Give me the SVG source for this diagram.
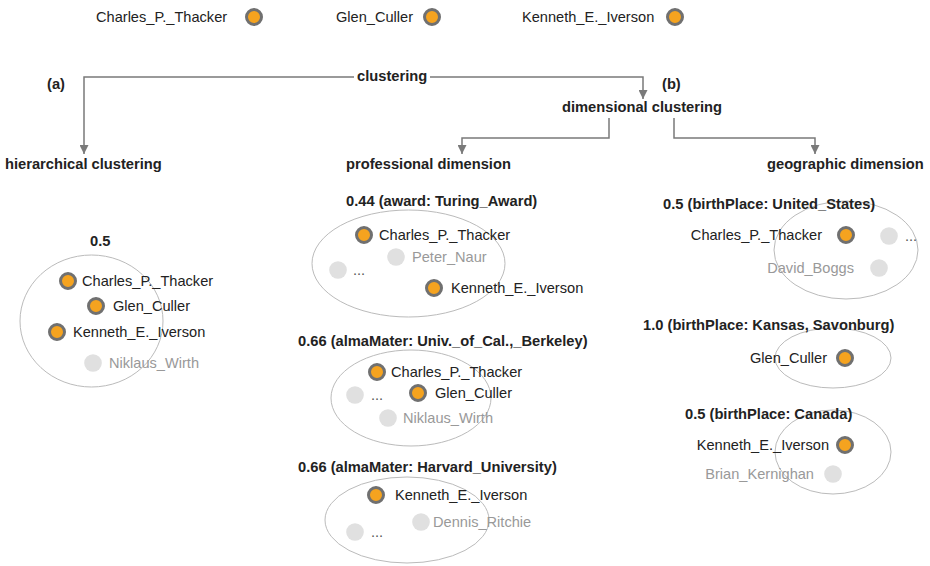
<svg xmlns="http://www.w3.org/2000/svg" width="930" height="566" viewBox="0 0 930 566">
<style>
text{font-family:"Liberation Sans",Arial,sans-serif;fill:#222}
.h{font-weight:bold;font-size:14.7px}
.n{font-size:14.6px}
.g{fill:#999}
.d{fill:#555}
.on{fill:#F5A31F;stroke:#707070;stroke-width:3}
.off{fill:#e0e0e0}
.cl{fill:none;stroke:#bbb;stroke-width:1}
.cn{fill:none;stroke:#7a7a7a;stroke-width:1.5}
</style>
<defs>
<marker id="arr" viewBox="0 0 10 10" refX="10" refY="5" markerWidth="10" markerHeight="9" markerUnits="userSpaceOnUse" orient="auto">
<path d="M0 0 L10 5 L0 10 z" fill="#7a7a7a"/>
</marker>
</defs>

<g id="legend">
<text class="n" x="96" y="22">Charles_P._Thacker</text>
<circle class="on" cx="254" cy="17" r="7.5"/>
<text class="n" x="336" y="22">Glen_Culler</text>
<circle class="on" cx="432" cy="17" r="7.5"/>
<text class="n" x="522" y="22">Kenneth_E._Iverson</text>
<circle class="on" cx="675" cy="17" r="7.5"/>
</g>

<g id="connectors">
<path class="cn" d="M354 77 H84 V154" marker-end="url(#arr)"/>
<path class="cn" d="M430 77 H643 V99" marker-end="url(#arr)"/>
<path class="cn" d="M609 118 V138 H462 V154" marker-end="url(#arr)"/>
<path class="cn" d="M674 118 V138 H815 V154" marker-end="url(#arr)"/>
</g>

<g id="headers">
<text class="h" x="47" y="89">(a)</text>
<text class="h" x="357" y="81">clustering</text>
<text class="h" x="662" y="89">(b)</text>
<text class="h" x="562" y="112">dimensional clustering</text>
<text class="h" x="5" y="169">hierarchical clustering</text>
<text class="h" x="346" y="169">professional dimension</text>
<text class="h" x="767" y="169">geographic dimension</text>
</g>

<g id="cluster-hier">
<ellipse class="cl" cx="91.5" cy="321" rx="71.5" ry="66"/>
<text class="h" x="90" y="246">0.5</text>
<circle class="on" cx="68" cy="281" r="7.5"/><text class="n" x="82" y="286">Charles_P._Thacker</text>
<circle class="on" cx="96" cy="306" r="7.5"/><text class="n" x="113" y="311">Glen_Culler</text>
<circle class="on" cx="57" cy="332" r="7.5"/><text class="n" x="73" y="337">Kenneth_E._Iverson</text>
<circle class="off" cx="93" cy="363" r="8.8"/><text class="n g" x="109" y="368">Niklaus_Wirth</text>
</g>

<g id="cluster-turing">
<ellipse class="cl" cx="408.5" cy="263.5" rx="96.5" ry="53.5"/>
<text class="h" x="346" y="206">0.44 (award: Turing_Award)</text>
<circle class="on" cx="364" cy="235" r="7.5"/><text class="n" x="379" y="240">Charles_P._Thacker</text>
<circle class="off" cx="396" cy="257" r="8.8"/><text class="n g" x="412" y="262">Peter_Naur</text>
<circle class="off" cx="338" cy="270" r="8.8"/><text class="n d" x="353" y="275">...</text>
<circle class="on" cx="434" cy="288" r="7.5"/><text class="n" x="451" y="293">Kenneth_E._Iverson</text>
</g>

<g id="cluster-berkeley">
<ellipse class="cl" cx="411" cy="398" rx="80" ry="48"/>
<text class="h" x="298" y="346">0.66 (almaMater: Univ._of_Cal.,_Berkeley)</text>
<circle class="on" cx="377" cy="372" r="7.5"/><text class="n" x="391" y="377">Charles_P._Thacker</text>
<circle class="off" cx="355" cy="395" r="8.8"/><text class="n d" x="371" y="400">...</text>
<circle class="on" cx="418" cy="393" r="7.5"/><text class="n" x="435" y="398">Glen_Culler</text>
<circle class="off" cx="388" cy="418" r="8.8"/><text class="n g" x="403" y="423">Niklaus_Wirth</text>
</g>

<g id="cluster-harvard">
<ellipse class="cl" cx="407" cy="520" rx="82" ry="43"/>
<text class="h" x="298" y="472">0.66 (almaMater: Harvard_University)</text>
<circle class="on" cx="376" cy="495" r="7.5"/><text class="n" x="395" y="500">Kenneth_E._Iverson</text>
<circle class="off" cx="421" cy="522" r="8.8"/><text class="n g" x="433" y="527">Dennis_Ritchie</text>
<circle class="off" cx="355" cy="532" r="8.8"/><text class="n d" x="371" y="537">...</text>
</g>

<g id="cluster-us">
<ellipse class="cl" cx="846" cy="250" rx="72" ry="49"/>
<text class="h" x="663" y="209">0.5 (birthPlace: United_States)</text>
<circle class="on" cx="846" cy="235" r="7.5"/><text class="n" x="822" y="240" text-anchor="end">Charles_P._Thacker</text>
<circle class="off" cx="889" cy="236" r="8.8"/><text class="n d" x="905" y="241">...</text>
<circle class="off" cx="879" cy="268" r="8.8"/><text class="n g" x="854" y="273" text-anchor="end">David_Boggs</text>
</g>

<g id="cluster-kansas">
<ellipse class="cl" cx="833" cy="358" rx="58" ry="30"/>
<text class="h" x="643" y="330">1.0 (birthPlace: Kansas, Savonburg)</text>
<circle class="on" cx="845" cy="358" r="7.5"/><text class="n" x="827" y="363" text-anchor="end">Glen_Culler</text>
</g>

<g id="cluster-canada">
<ellipse class="cl" cx="833" cy="452" rx="58" ry="42"/>
<text class="h" x="685" y="419">0.5 (birthPlace: Canada)</text>
<circle class="on" cx="845" cy="445" r="7.5"/><text class="n" x="829" y="450" text-anchor="end">Kenneth_E._Iverson</text>
<circle class="off" cx="833" cy="474" r="8.8"/><text class="n g" x="814" y="479" text-anchor="end">Brian_Kernighan</text>
</g>
</svg>
